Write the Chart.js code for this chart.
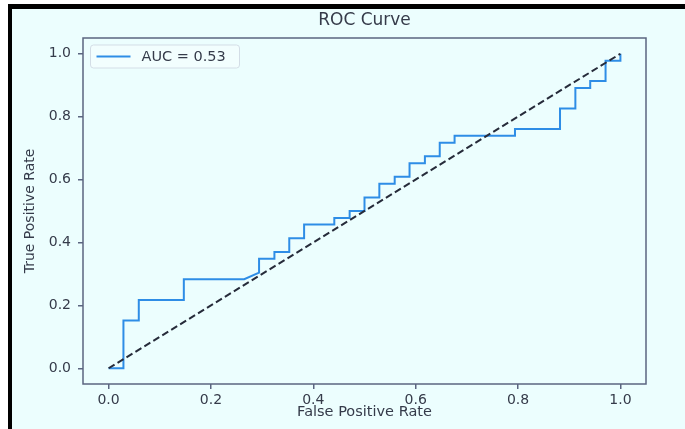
<!DOCTYPE html>
<html>
<head>
<meta charset="utf-8">
<script src="https://cdn.jsdelivr.net/npm/chart.js@4.4.1/dist/chart.umd.min.js"></script>
<style>
  html, body { margin: 0; padding: 0; background: #ffffff; overflow: hidden; }
  #frame {
    position: absolute; left: 8px; top: 4px; width: 720px; height: 460px;
    border-left: 4px solid #000; border-top: 5px solid #000;
    background: #ecfefe;
  }
  #wrap { position: absolute; left: 0; top: 0; width: 685px; height: 429px; }
</style>
</head>
<body>
<div id="frame"></div>
<div id="wrap"><canvas id="grafico" width="685" height="429"></canvas></div>
<script>
// ROC curve vertices
const fpr = [0, 0.029, 0.029, 0.059, 0.059, 0.147, 0.147, 0.265, 0.294, 0.294, 0.324, 0.324,
  0.353, 0.353, 0.382, 0.382, 0.441, 0.441, 0.471, 0.471, 0.5, 0.5, 0.529, 0.529, 0.559, 0.559,
  0.588, 0.588, 0.618, 0.618, 0.647, 0.647, 0.676, 0.676, 0.794, 0.794, 0.882, 0.882, 0.912, 0.912,
  0.941, 0.941, 0.971, 0.971, 1.0, 1.0];
const tpr = [0, 0, 0.152, 0.152, 0.217, 0.217, 0.283, 0.283, 0.304, 0.348, 0.348, 0.370,
  0.370, 0.413, 0.413, 0.457, 0.457, 0.478, 0.478, 0.5, 0.5, 0.543, 0.543, 0.587, 0.587, 0.609,
  0.609, 0.652, 0.652, 0.674, 0.674, 0.717, 0.717, 0.739, 0.739, 0.761, 0.761, 0.826, 0.826, 0.891,
  0.891, 0.913, 0.913, 0.978, 0.978, 1.0];
const diagX = [0, 1];
const diagY = [0, 1];
const tickValues = [0, 0.2, 0.4, 0.6, 0.8, 1.0];
const legendLabel = 'AUC = 0.53';

const corEixo = '#5b6580';
const corTexto = '#353b4a';
const fonte = 'DejaVu Sans';

// moldura dos quatro lados do grafico
const moldura = {
    id: 'moldura',
    afterDatasetsDraw(chart) {
        const { ctx, chartArea: a } = chart;
        ctx.save();
        ctx.strokeStyle = corEixo;
        ctx.lineWidth = 1.5;
        ctx.strokeRect(a.left, a.top, a.right - a.left, a.bottom - a.top);
        ctx.restore();
    }
};

// legenda no canto superior esquerdo, estilo matplotlib
const legenda = {
    id: 'legenda',
    afterDraw(chart) {
        const { ctx, chartArea: a } = chart;
        const ds = chart.data.datasets[0];
        const x = a.left + 7.5, y = a.top + 7;
        const w = 149, h = 23;
        ctx.save();
        ctx.beginPath();
        ctx.roundRect(x, y, w, h, 3);
        ctx.fillStyle = 'rgba(255,255,255,0.35)';
        ctx.fill();
        ctx.strokeStyle = '#d3dde6';
        ctx.lineWidth = 1;
        ctx.stroke();
        ctx.beginPath();
        ctx.moveTo(x + 6, y + h / 2);
        ctx.lineTo(x + 40, y + h / 2);
        ctx.strokeStyle = ds.borderColor;
        ctx.lineWidth = 2;
        ctx.stroke();
        ctx.fillStyle = corTexto;
        ctx.font = `14.5px "${fonte}"`;
        ctx.textBaseline = 'middle';
        ctx.fillText(ds.label, x + 51, y + h / 2 + 0.5);
        ctx.restore();
    }
};

const ticksFixos = scale => { scale.ticks = tickValues.map(v => ({ value: v })); };

new Chart(document.getElementById('grafico'), {
    type: 'scatter',
    data: {
        datasets: [{
            label: legendLabel,
            data: fpr.map((v, i) => ({ x: v, y: tpr[i] })),
            showLine: true,
            borderColor: '#2e8de6',
            backgroundColor: '#2e8de6',
            borderWidth: 2,
            pointRadius: 0,
            tension: 0,
            order: 1
        }, {
            label: 'diagonal',
            data: diagX.map((v, i) => ({ x: v, y: diagY[i] })),
            showLine: true,
            borderColor: '#262b3a',
            borderWidth: 2,
            borderDash: [7, 3.5],
            pointRadius: 0,
            order: 0
        }]
    },
    plugins: [moldura, legenda],
    options: {
        responsive: false,
        animation: false,
        layout: { padding: { left: 0, top: 0, right: 39, bottom: 0 } },
        plugins: {
            legend: { display: false },
            tooltip: { enabled: false },
            title: {
                display: true,
                text: 'ROC Curve',
                fullSize: false,
                color: corTexto,
                font: { family: fonte, size: 17, weight: 'normal' },
                padding: { top: 10, bottom: 7.6 }
            }
        },
        scales: {
            x: {
                type: 'linear',
                min: -0.05,
                max: 1.05,
                afterBuildTicks: ticksFixos,
                afterFit: scale => { scale.height = 45; },
                border: { display: false },
                grid: { drawOnChartArea: false, drawTicks: true, tickLength: 5, color: corEixo, lineWidth: 1.5 },
                ticks: {
                    padding: 3,
                    color: corTexto,
                    font: { family: fonte, size: 14 },
                    callback: v => v.toFixed(1)
                },
                title: {
                    display: true,
                    text: 'False Positive Rate',
                    color: corTexto,
                    font: { family: fonte, size: 14.5 },
                    padding: { top: 0, bottom: 8 }
                }
            },
            y: {
                type: 'linear',
                min: -0.05,
                max: 1.05,
                afterBuildTicks: ticksFixos,
                afterFit: scale => { scale.width = 83; },
                border: { display: false },
                grid: { drawOnChartArea: false, drawTicks: true, tickLength: 5, color: corEixo, lineWidth: 1.5 },
                ticks: {
                    padding: 7,
                    color: corTexto,
                    font: { family: fonte, size: 14 },
                    callback: v => v.toFixed(1)
                },
                title: {
                    display: true,
                    text: 'True Positive Rate',
                    color: corTexto,
                    font: { family: fonte, size: 14 },
                    padding: { top: 22, bottom: 0 }
                }
            }
        }
    }
});
</script>
</body>
</html>
